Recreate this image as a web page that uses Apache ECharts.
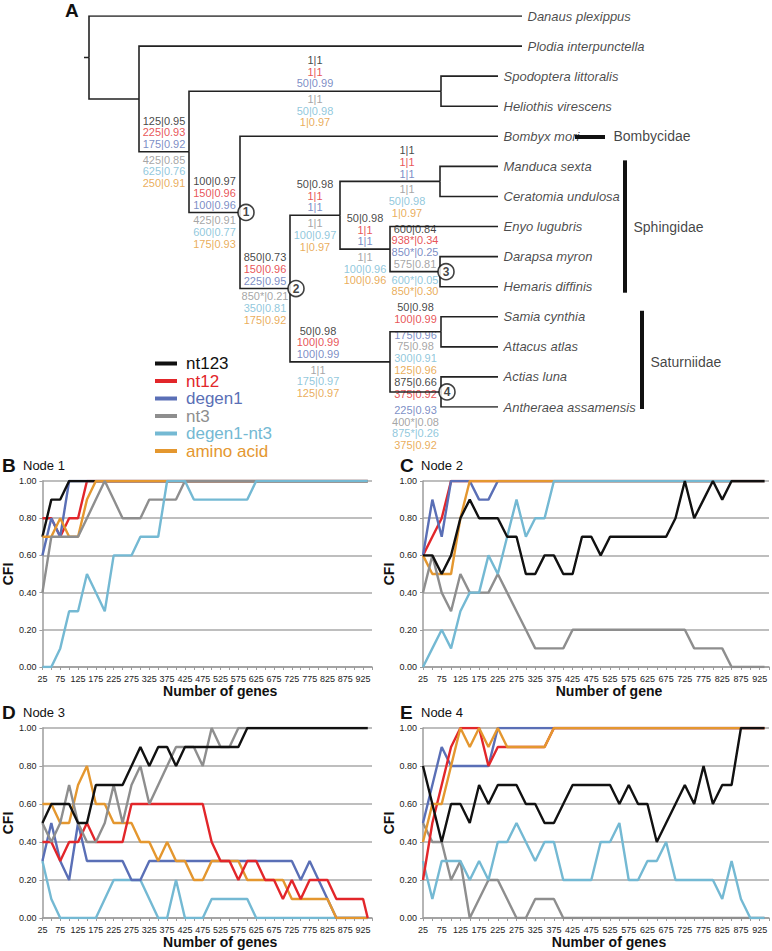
<!DOCTYPE html>
<html>
<head>
<meta charset="utf-8">
<script src="https://cdn.jsdelivr.net/npm/echarts@6/dist/echarts.min.js"></script>
<style>
  html, body { margin: 0; padding: 0; background: #fff; }
  #main { width: 772px; height: 951px; }
</style>
</head>
<body>
<div id="main"></div>
<script>
// ---- data ----
const genes = [25, 50, 75, 100, 125, 150, 175, 200, 225, 250, 275, 300, 325, 350, 375, 400, 425, 450, 475, 500,
  525, 550, 575, 600, 625, 650, 675, 700, 725, 750, 775, 800, 825, 850, 875, 900, 925, 938];
const seriesNames = ['nt123', 'nt12', 'degen1', 'nt3', 'degen1-nt3', 'amino acid'];

// Node 1
const n1_nt123 = [0.7, 0.9, 0.9, 1, 1, 1, 1, 1, 1, 1, 1, 1, 1, 1, 1, 1, 1, 1, 1, 1, 1, 1, 1, 1, 1, 1, 1, 1, 1, 1, 1, 1, 1, 1, 1, 1, 1, 1];
const n1_nt12 = [0.8, 0.8, 0.7, 0.8, 0.8, 1, 1, 1, 1, 1, 1, 1, 1, 1, 1, 1, 1, 1, 1, 1, 1, 1, 1, 1, 1, 1, 1, 1, 1, 1, 1, 1, 1, 1, 1, 1, 1, 1];
const n1_degen1 = [0.6, 0.8, 0.7, 1, 1, 1, 1, 1, 1, 1, 1, 1, 1, 1, 1, 1, 1, 1, 1, 1, 1, 1, 1, 1, 1, 1, 1, 1, 1, 1, 1, 1, 1, 1, 1, 1, 1, 1];
const n1_nt3 = [0.4, 0.7, 0.7, 0.7, 0.7, 0.8, 0.9, 1, 0.9, 0.8, 0.8, 0.8, 0.9, 0.9, 0.9, 0.9, 1, 1, 1, 1, 1, 1, 1, 1, 1, 1, 1, 1, 1, 1, 1, 1, 1, 1, 1, 1, 1, 1];
const n1_dn3 = [0, 0, 0.1, 0.3, 0.3, 0.5, 0.4, 0.3, 0.6, 0.6, 0.6, 0.7, 0.7, 0.7, 1, 1, 1, 0.9, 0.9, 0.9, 0.9, 0.9, 0.9, 0.9, 1, 1, 1, 1, 1, 1, 1, 1, 1, 1, 1, 1, 1, 1];
const n1_aa = [0.7, 0.7, 0.8, 0.7, 0.7, 0.9, 1, 1, 1, 1, 1, 1, 1, 1, 1, 1, 1, 1, 1, 1, 1, 1, 1, 1, 1, 1, 1, 1, 1, 1, 1, 1, 1, 1, 1, 1, 1, 1];

// Node 2
const n2_nt123 = [0.6, 0.6, 0.5, 0.6, 0.8, 0.9, 0.8, 0.8, 0.8, 0.7, 0.7, 0.5, 0.5, 0.6, 0.6, 0.5, 0.5, 0.7, 0.7, 0.6, 0.7, 0.7, 0.7, 0.7, 0.7, 0.7, 0.7, 0.8, 1, 0.8, 0.9, 1, 0.9, 1, 1, 1, 1, 1];
const n2_nt12 = [0.6, 0.7, 0.8, 1, 1, 1, 1, 1, 1, 1, 1, 1, 1, 1, 1, 1, 1, 1, 1, 1, 1, 1, 1, 1, 1, 1, 1, 1, 1, 1, 1, 1, 1, 1, 1, 1, 1, 1];
const n2_degen1 = [0.6, 0.9, 0.7, 1, 1, 1, 0.9, 0.9, 1, 1, 1, 1, 1, 1, 1, 1, 1, 1, 1, 1, 1, 1, 1, 1, 1, 1, 1, 1, 1, 1, 1, 1, 1, 1, 1, 1, 1, 1];
const n2_nt3 = [0.4, 0.6, 0.4, 0.3, 0.5, 0.4, 0.4, 0.4, 0.5, 0.4, 0.3, 0.2, 0.1, 0.1, 0.1, 0.1, 0.2, 0.2, 0.2, 0.2, 0.2, 0.2, 0.2, 0.2, 0.2, 0.2, 0.2, 0.2, 0.2, 0.1, 0.1, 0.1, 0.1, 0, 0, 0, 0, 0];
const n2_dn3 = [0, 0.1, 0.2, 0.1, 0.3, 0.4, 0.4, 0.6, 0.5, 0.7, 0.9, 0.7, 0.8, 0.8, 1, 1, 1, 1, 1, 1, 1, 1, 1, 1, 1, 1, 1, 1, 1, 1, 1, 1, 1, 1, 1, 1, 1, 1];
const n2_aa = [0.6, 0.5, 0.5, 0.5, 0.8, 1, 1, 1, 1, 1, 1, 1, 1, 1, 1, 1, 1, 1, 1, 1, 1, 1, 1, 1, 1, 1, 1, 1, 1, 1, 1, 1, 1, 1, 1, 1, 1, 1];

// Node 3
const n3_nt123 = [0.5, 0.6, 0.6, 0.6, 0.5, 0.5, 0.7, 0.7, 0.7, 0.7, 0.8, 0.9, 0.8, 0.9, 0.9, 0.8, 0.9, 0.9, 0.9, 0.9, 0.9, 0.9, 0.9, 1, 1, 1, 1, 1, 1, 1, 1, 1, 1, 1, 1, 1, 1, 1];
const n3_nt12 = [0.4, 0.4, 0.3, 0.4, 0.4, 0.5, 0.4, 0.4, 0.4, 0.4, 0.6, 0.6, 0.6, 0.6, 0.6, 0.6, 0.6, 0.6, 0.6, 0.4, 0.3, 0.3, 0.2, 0.3, 0.3, 0.2, 0.2, 0.1, 0.2, 0.1, 0.2, 0.2, 0.2, 0.1, 0.1, 0.1, 0.1, 0];
const n3_degen1 = [0.3, 0.5, 0.3, 0.2, 0.5, 0.3, 0.3, 0.3, 0.3, 0.3, 0.2, 0.2, 0.3, 0.3, 0.3, 0.3, 0.3, 0.3, 0.3, 0.3, 0.3, 0.3, 0.3, 0.3, 0.3, 0.3, 0.3, 0.3, 0.3, 0.2, 0.3, 0.2, 0.1, 0, 0, 0, 0, 0];
const n3_nt3 = [0.5, 0.4, 0.5, 0.7, 0.5, 0.4, 0.4, 0.5, 0.7, 0.5, 0.7, 0.8, 0.6, 0.7, 0.8, 0.9, 0.9, 0.9, 0.8, 1, 0.9, 0.9, 1, 1, 1, 1, 1, 1, 1, 1, 1, 1, 1, 1, 1, 1, 1, 1];
const n3_dn3 = [0.3, 0.1, 0, 0, 0, 0, 0, 0.1, 0.2, 0.2, 0.2, 0.2, 0.1, 0, 0, 0.2, 0, 0, 0, 0.1, 0.1, 0.1, 0.1, 0.1, 0, 0, 0, 0, 0, 0, 0, 0, 0, 0, 0, 0, 0, 0];
const n3_aa = [0.6, 0.6, 0.5, 0.5, 0.7, 0.8, 0.6, 0.6, 0.5, 0.5, 0.5, 0.4, 0.4, 0.3, 0.4, 0.3, 0.3, 0.2, 0.2, 0.3, 0.3, 0.3, 0.3, 0.2, 0.2, 0.2, 0.2, 0.2, 0.1, 0.1, 0.1, 0.1, 0.1, 0, 0, 0, 0, 0];

// Node 4
const n4_nt123 = [0.8, 0.6, 0.4, 0.6, 0.6, 0.5, 0.7, 0.6, 0.7, 0.7, 0.7, 0.6, 0.6, 0.5, 0.5, 0.6, 0.7, 0.7, 0.7, 0.7, 0.7, 0.6, 0.7, 0.6, 0.6, 0.4, 0.5, 0.6, 0.7, 0.6, 0.8, 0.6, 0.7, 0.7, 1, 1, 1, 1];
const n4_nt12 = [0.2, 0.5, 0.7, 0.9, 1, 1, 1, 0.8, 0.9, 0.9, 0.9, 0.9, 0.9, 0.9, 1, 1, 1, 1, 1, 1, 1, 1, 1, 1, 1, 1, 1, 1, 1, 1, 1, 1, 1, 1, 1, 1, 1, 1];
const n4_degen1 = [0.5, 0.7, 0.9, 0.8, 0.8, 0.8, 0.8, 0.8, 1, 1, 1, 1, 1, 1, 1, 1, 1, 1, 1, 1, 1, 1, 1, 1, 1, 1, 1, 1, 1, 1, 1, 1, 1, 1, 1, 1, 1, 1];
const n4_nt3 = [0.5, 0.4, 0.4, 0.2, 0.3, 0, 0.1, 0.2, 0.2, 0.1, 0, 0, 0.1, 0.1, 0.1, 0, 0, 0, 0, 0, 0, 0, 0, 0, 0, 0, 0, 0, 0, 0, 0, 0, 0, 0, 0, 0, 0, 0];
const n4_dn3 = [0.3, 0.1, 0.3, 0.3, 0.3, 0.2, 0.3, 0.2, 0.4, 0.4, 0.5, 0.4, 0.3, 0.4, 0.4, 0.2, 0.2, 0.2, 0.2, 0.4, 0.4, 0.5, 0.2, 0.2, 0.3, 0.3, 0.4, 0.2, 0.2, 0.2, 0.2, 0.2, 0.1, 0.3, 0.1, 0, 0, 0];
const n4_aa = [0.4, 0.6, 0.6, 0.8, 1, 0.9, 1, 0.9, 1, 0.9, 0.9, 0.9, 0.9, 0.9, 1, 1, 1, 1, 1, 1, 1, 1, 1, 1, 1, 1, 1, 1, 1, 1, 1, 1, 1, 1, 1, 1, 1, 1];

// tree: id, parent, branch position (depth)
const treeNodes = [
  ['root', null, 0],
  ['a', 'root', 50],
  ['b', 'a', 100],
  ['noct', 'b', 352],
  ['c', 'b', 151],
  ['d', 'c', 201],
  ['e', 'd', 251],
  ['mc', 'e', 351],
  ['f', 'e', 301],
  ['g', 'f', 351],
  ['h', 'd', 301],
  ['i', 'h', 352],
  ['j', 'h', 352],
  ['Danaus plexippus', 'root', 433],
  ['Plodia interpunctella', 'a', 433],
  ['Spodoptera littoralis', 'noct', 409],
  ['Heliothis virescens', 'noct', 409],
  ['Bombyx mori', 'c', 409],
  ['Manduca sexta', 'mc', 409],
  ['Ceratomia undulosa', 'mc', 409],
  ['Enyo lugubris', 'f', 409],
  ['Darapsa myron', 'g', 409],
  ['Hemaris diffinis', 'g', 409],
  ['Samia cynthia', 'i', 409],
  ['Attacus atlas', 'i', 409],
  ['Actias luna', 'j', 409],
  ['Antheraea assamensis', 'j', 409]
];

// support values per branch, in order nt123, nt12, degen1, nt3, degen1-nt3, amino acid
const supportValues = {
  b: ['125|0.95', '225|0.93', '175|0.92', '425|0.85', '625|0.76', '250|0.91'],
  c: ['100|0.97', '150|0.96', '100|0.96', '425|0.91', '600|0.77', '175|0.93'],
  d: ['850|0.73', '150|0.96', '225|0.95', '850*|0.21', '350|0.81', '175|0.92'],
  noct: ['1|1', '1|1', '50|0.99', '1|1', '50|0.98', '1|0.97'],
  e: ['50|0.98', '1|1', '1|1', '1|1', '100|0.97', '1|0.97'],
  mc: ['1|1', '1|1', '1|1', '1|1', '50|0.98', '1|0.97'],
  f: ['50|0.98', '1|1', '1|1', '1|1', '100|0.96', '100|0.96'],
  g: ['600|0.84', '938*|0.34', '850*|0.25', '575|0.81', '600*|0.05', '850*|0.30'],
  h: ['50|0.98', '100|0.99', '100|0.99', '1|1', '175|0.97', '125|0.97'],
  i: ['50|0.98', '100|0.99', '175|0.96', '75|0.98', '300|0.91', '125|0.96'],
  j: ['875|0.66', '375|0.92', '225|0.93', '400*|0.08', '875*|0.26', '375|0.92']
};
const supportAbove = { g: 4, i: 2, j: 2 };
const nodeCircles = { c: '1', d: '2', g: '3', j: '4' };
const families = ['Bombycidae', 'Sphingidae', 'Saturniidae'];
const familyFirst = ['Bombyx mori', 'Manduca sexta', 'Samia cynthia'];
const familyLast = ['Bombyx mori', 'Hemaris diffinis', 'Antheraea assamensis'];

// ---- layout / style ----
const FONT = '"Liberation Sans", Arial, Helvetica, sans-serif';
const colors = ['#111111', '#e2262a', '#5a6fb6', '#8e8e8e', '#74b9d3', '#e4972f'];
const panels = [
  { title: 'B', node: 'Node 1', grid: { left: 25, top: 481, width: 347, height: 186 }, xName: 'Number of genes',
    data: [n1_nt123, n1_nt12, n1_degen1, n1_nt3, n1_dn3, n1_aa], order: [1, 2, 0, 5, 3, 4] },
  { title: 'C', node: 'Node 2', grid: { left: 423, top: 481, width: 349, height: 186 }, xName: 'Number of gene',
    data: [n2_nt123, n2_nt12, n2_degen1, n2_nt3, n2_dn3, n2_aa], order: [1, 2, 5, 3, 4, 0] },
  { title: 'D', node: 'Node 3', grid: { left: 25, top: 728, width: 347, height: 190 }, xName: 'Number of genes',
    data: [n3_nt123, n3_nt12, n3_degen1, n3_nt3, n3_dn3, n3_aa], order: [4, 2, 5, 1, 3, 0] },
  { title: 'E', node: 'Node 4', grid: { left: 423, top: 728, width: 349, height: 190 }, xName: 'Number of genes',
    data: [n4_nt123, n4_nt12, n4_degen1, n4_nt3, n4_dn3, n4_aa], order: [3, 4, 2, 1, 5, 0] }
];
const labelShift = { mc: [17, 0], h: [-22, 0], i: [0, -5], j: [0, 10] };
const circleShift = 6;
const rootStub = 5;
// family bar placement (tree x units) and kind
const familyBarX = [[486, 516], [536, 536], [553, 553]];

const chart = echarts.init(document.getElementById('main'), null, { renderer: 'svg' });

// tree layout
const nodeById = {};
treeNodes.forEach(([id, parent, depth]) => { nodeById[id] = { id, parent, depth, children: [] }; });
treeNodes.forEach(([id, parent]) => { if (parent) nodeById[parent].children.push(id); });
let leafCount = 0;
treeNodes.forEach(([id]) => { if (!nodeById[id].children.length) nodeById[id].y = leafCount++; });
function nodeY (id) {
  const n = nodeById[id];
  if (n.y === undefined) {
    const ys = n.children.map(nodeY);
    n.y = (Math.min(...ys) + Math.max(...ys)) / 2;
  }
  return n.y;
}
nodeY('root');

const edgeData = [];
treeNodes.forEach(([id, parent]) => {
  const n = nodeById[id];
  if (!parent) {
    edgeData.push({ coords: [[n.depth - rootStub, n.y], [n.depth, n.y]] });
    return;
  }
  const p = nodeById[parent];
  edgeData.push({ coords: [[p.depth, p.y], [p.depth, n.y], [n.depth, n.y]] });
});

const leafItems = treeNodes.filter(([id]) => !nodeById[id].children.length)
  .map(([id]) => ({ value: [nodeById[id].depth, nodeById[id].y], name: id }));

const rich = {};
colors.forEach((c, i) => { rich['c' + i] = { color: c, fontSize: 11, lineHeight: 11.7, fontFamily: FONT }; });

const supportItems = [];
Object.keys(supportValues).forEach(id => {
  const n = nodeById[id];
  const p = nodeById[n.parent];
  const vals = supportValues[id];
  const k = supportAbove[id] || 3;
  const shift = labelShift[id] || [0, 0];
  const x = (p.depth + n.depth) / 2 + shift[0];
  const block = (from, to) => vals.slice(from, to).map((v, i) => '{c' + (from + i) + '|' + v + '}').join('\n');
  supportItems.push({ value: [x, n.y], txt: block(0, k), label: { position: 'top', distance: 1.5, offset: [0, shift[1]] } });
  supportItems.push({ value: [x, n.y], txt: block(k, 6), label: { position: 'bottom', distance: 1.5, offset: [0, shift[1]] } });
});

const circleItems = Object.keys(nodeCircles).map(id => ({
  value: [nodeById[id].depth + circleShift, nodeById[id].y], name: nodeCircles[id]
}));

// family bars and names
const famBars = [];
const famText = [];
families.forEach((name, i) => {
  const y0 = nodeById[familyFirst[i]].y;
  const y1 = nodeById[familyLast[i]].y;
  const [xa, xb] = familyBarX[i];
  if (y0 === y1) {
    famBars.push({ coords: [[xa, y0], [xb, y0]] });
    famText.push({ value: [xb, y0], name });
  } else {
    famBars.push({ coords: [[xa, y0 - 0.2], [xa, y1 + 0.2]] });
    famText.push({ value: [xa, (y0 + y1) / 2], name });
  }
});

// ---- option ----
const grids = panels.map(p => p.grid);
grids.push({ left: 79, top: 16, width: 693, height: 391 });

const xAxes = panels.map((p, gi) => ({
  gridIndex: gi, type: 'value', min: 25, max: 950, interval: 25,
  axisLine: { lineStyle: { color: '#9c9c9c', width: 1.5 } },
  axisTick: { show: true, length: 3, lineStyle: { color: '#9c9c9c' } },
  axisLabel: {
    fontSize: 9, color: '#222', margin: 7, fontFamily: FONT,
    formatter: v => ((v - 25) % 50 === 0 && v < 950) ? String(v) : ''
  },
  splitLine: { show: false },
  name: p.xName, nameLocation: 'middle', nameGap: 17,
  nameTextStyle: { fontSize: 14, fontWeight: 'bold', color: '#111', fontFamily: FONT, padding: [0, 0, 0, 26] }
}));
xAxes.push({ gridIndex: 4, type: 'value', min: -10, max: 683, show: false });

const yAxes = panels.map((p, gi) => ({
  gridIndex: gi, type: 'value', min: 0, max: 1, interval: 0.2,
  axisLine: { show: true, lineStyle: { color: '#9c9c9c', width: 1.5 } },
  axisTick: { show: true, length: 3, lineStyle: { color: '#9c9c9c' } },
  axisLabel: { fontSize: 9, color: '#222', margin: 6, fontFamily: FONT, formatter: v => v.toFixed(2) },
  splitLine: { lineStyle: { color: '#a8a8a8', width: 1.5 } },
  name: 'CFI', nameLocation: 'middle', nameGap: 13, nameRotate: 90,
  nameTextStyle: { fontSize: 14, fontWeight: 'bold', color: '#111', fontFamily: FONT }
}));
yAxes.push({ gridIndex: 4, type: 'value', min: 0, max: 13, inverse: true, show: false });

const series = [];
panels.forEach((p, gi) => {
  p.order.forEach((si, rank) => {
    series.push({
      type: 'line', name: seriesNames[si], xAxisIndex: gi, yAxisIndex: gi,
      data: genes.map((g, i) => [g, p.data[si][i]]),
      showSymbol: false, symbol: 'none', color: colors[si],
      lineStyle: { width: 2.4, color: colors[si] }, z: 2 + rank, animation: false
    });
  });
});

series.push({
  type: 'lines', coordinateSystem: 'cartesian2d', xAxisIndex: 4, yAxisIndex: 4, polyline: true,
  data: edgeData, lineStyle: { color: '#222', width: 1.6, opacity: 1 }, silent: true, z: 3, animation: false
});
series.push({
  type: 'lines', coordinateSystem: 'cartesian2d', xAxisIndex: 4, yAxisIndex: 4,
  data: famBars, lineStyle: { color: '#111', width: 4, opacity: 1, cap: 'butt' }, silent: true, z: 3, animation: false
});
series.push({
  type: 'scatter', xAxisIndex: 4, yAxisIndex: 4, data: leafItems, symbolSize: 1,
  itemStyle: { color: 'rgba(0,0,0,0)' }, silent: true, animation: false,
  label: { show: true, position: 'right', distance: 5, formatter: '{b}', fontStyle: 'italic', fontSize: 13, color: '#1a1a1a', fontFamily: FONT }
});
series.push({
  type: 'scatter', xAxisIndex: 4, yAxisIndex: 4, data: supportItems, symbolSize: 1,
  itemStyle: { color: 'rgba(0,0,0,0)' }, silent: true, animation: false,
  label: { show: true, formatter: prm => prm.data.txt, rich, align: 'center' }
});
series.push({
  type: 'scatter', xAxisIndex: 4, yAxisIndex: 4, data: circleItems, symbol: 'circle', symbolSize: 16,
  itemStyle: { color: '#fff', borderColor: '#111', borderWidth: 1.6 }, silent: true, z: 6, animation: false,
  label: { show: true, position: 'inside', formatter: '{b}', fontSize: 12, fontWeight: 'bold', color: '#111', fontFamily: FONT }
});
series.push({
  type: 'scatter', xAxisIndex: 4, yAxisIndex: 4, data: famText, symbolSize: 1,
  itemStyle: { color: 'rgba(0,0,0,0)' }, silent: true, animation: false,
  label: { show: true, position: 'right', distance: 8, formatter: '{b}', fontSize: 14, color: '#111', fontFamily: FONT }
});

const titles = [{ text: 'A', left: 65, top: 1, padding: 0, textStyle: { fontSize: 19, fontWeight: 'bold', color: '#111', fontFamily: FONT } }];
panels.forEach(p => {
  const top = p.grid.top - 25;
  titles.push({ text: p.title, left: p.grid.left - 23, top: top, padding: 0,
    textStyle: { fontSize: 19, fontWeight: 'bold', color: '#111', fontFamily: FONT } });
  titles.push({ text: p.node, left: p.grid.left - 2, top: top + 3, padding: 0,
    textStyle: { fontSize: 13, fontWeight: 'normal', color: '#111', fontFamily: FONT } });
});

chart.setOption({
  animation: false,
  backgroundColor: '#fff',
  title: titles,
  grid: grids,
  xAxis: xAxes,
  yAxis: yAxes,
  legend: {
    orient: 'vertical', left: 150, top: 350, itemWidth: 22, itemHeight: 4, itemGap: 0.5, icon: 'rect',
    selectedMode: false,
    data: seriesNames.map((n, i) => ({ name: n, textStyle: { color: colors[i] } })),
    textStyle: { fontSize: 17, lineHeight: 17, fontFamily: FONT, padding: [0, 0, 0, 4] }
  },
  series
});
</script>
</body>
</html>
